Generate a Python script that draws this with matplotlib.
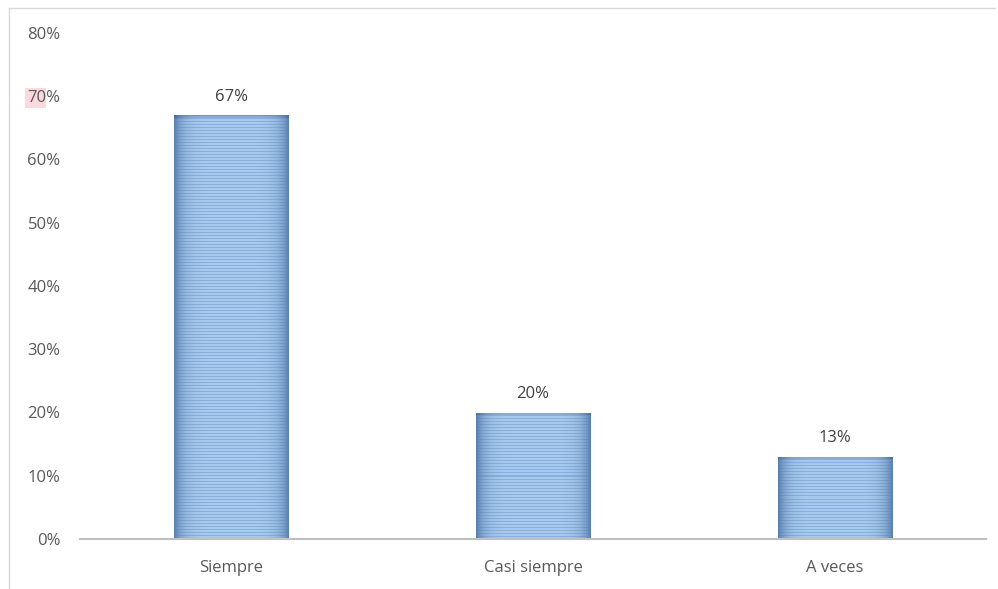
import numpy as np
import matplotlib
matplotlib.use("Agg")
import matplotlib.pyplot as plt
from matplotlib.patches import Rectangle
from matplotlib.ticker import FuncFormatter, MultipleLocator

categories = ["Siempre", "Casi siempre", "A veces"]
values = [0.67, 0.20, 0.13]
value_labels = ["67%", "20%", "13%"]

plt.rcParams['font.family'] = ['Open Sans', 'DejaVu Sans']

W, H, DPI = 998, 589, 100
fig = plt.figure(figsize=(W / DPI, H / DPI), dpi=DPI)
fig.patch.set_facecolor("white")

# outer chart frame (top and left visible)
fig.add_artist(plt.Line2D([9 / W, 9 / W], [0, 1 - 8 / H], color="#d9d9d9", lw=1.0))
fig.add_artist(plt.Line2D([9 / W, 995 / W], [1 - 8 / H, 1 - 8 / H], color="#d9d9d9", lw=1.0))
# highlight behind "70"
fig.add_artist(Rectangle((25 / W, 1 - 108 / H), 21 / W, 20 / H, transform=fig.transFigure,
                         facecolor="#fadadd", edgecolor="none", zorder=0))

left, right = 80 / W, 986 / W
bottom, top = 1 - 539 / H, 1 - 33 / H
ax = fig.add_axes([left, bottom, right - left, top - bottom])
ax.set_facecolor("none")

x = np.arange(len(categories))
bars = ax.bar(x, values, width=0.378, color="#8fb4e0", edgecolor="none", zorder=2)
ax.set_xlim(-0.5, len(categories) - 0.5)
ax.set_ylim(0, 0.8)

# textured gradient fill for bars
axh_px = (top - bottom) * H
cols = 114
t = np.linspace(-1, 1, cols)
prof = np.clip(1 - np.abs(t) ** 6, 0, 1)
dark = np.array([0x5a, 0x80, 0xb0]) / 255
light = np.array([0xa8, 0xca, 0xef]) / 255
mid = np.array([0x8a, 0xb0, 0xdd]) / 255
for b, v in zip(bars, values):
    rows = max(int(round(v / 0.8 * axh_px)), 4)
    img = np.zeros((rows, cols, 3))
    for r in range(rows):
        base = light if (r % 3) != 0 else mid
        for c in range(cols):
            f = prof[c]
            img[r, c] = dark + (base - dark) * f
    img[0:3, :] = img[0:3, :] * 0.85
    xx, yy = b.get_x(), b.get_y()
    im = ax.imshow(img, extent=(xx, xx + b.get_width(), yy, yy + b.get_height()),
                   aspect="auto", interpolation="nearest", zorder=3, origin="upper")
    im.set_clip_path(b)

for xi, v, lab in zip(x, values, value_labels):
    ax.annotate(lab, (xi, v), xytext=(0, 7.5), textcoords="offset points",
                ha="center", va="bottom", fontsize=12, color="#404040")

ax.yaxis.set_major_locator(MultipleLocator(0.1))
ax.yaxis.set_major_formatter(FuncFormatter(lambda y, p: f"{int(round(y * 100))}%"))
ax.set_xticks(x)
ax.set_xticklabels(categories)
ax.tick_params(axis="y", length=0, pad=14, labelsize=12, labelcolor="#595959")
ax.tick_params(axis="x", length=0, pad=15, labelsize=12, labelcolor="#595959")
for s in ["top", "right", "left"]:
    ax.spines[s].set_visible(False)
ax.spines["bottom"].set_color("#bfbfbf")
ax.spines["bottom"].set_linewidth(1.5)
ax.spines["bottom"].set_zorder(4)

fig.savefig("out.png", dpi=DPI)
